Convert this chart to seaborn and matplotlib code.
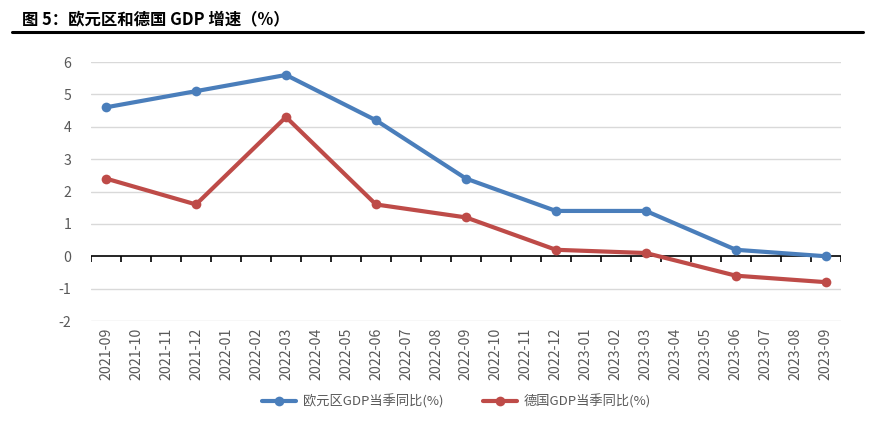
import matplotlib
matplotlib.use("Agg")
import matplotlib.pyplot as plt
import seaborn as sns
import pandas as pd
import numpy as np

months = ["2021-09","2021-10","2021-11","2021-12","2022-01","2022-02","2022-03","2022-04",
          "2022-05","2022-06","2022-07","2022-08","2022-09","2022-10","2022-11","2022-12",
          "2023-01","2023-02","2023-03","2023-04","2023-05","2023-06","2023-07","2023-08","2023-09"]
quarters = ["2021-09","2021-12","2022-03","2022-06","2022-09","2022-12","2023-03","2023-06","2023-09"]
euro = [4.6, 5.1, 5.6, 4.2, 2.4, 1.4, 1.4, 0.2, 0.0]
germany = [2.4, 1.6, 4.3, 1.6, 1.2, 0.2, 0.1, -0.6, -0.8]
series_names = ["欧元区GDP当季同比(%)", "德国GDP当季同比(%)"]
title = "图 5：欧元区和德国 GDP 增速（%）"

sns.set_theme(style="white")
plt.rcParams['font.family'] = ['Noto Sans CJK SC', 'DejaVu Sans']

pos = [months.index(q) for q in quarters]
df = pd.DataFrame({
    "x": pos * 2,
    "val": euro + germany,
    "series": [series_names[0]] * len(euro) + [series_names[1]] * len(germany),
})

fig = plt.figure(figsize=(8.75, 4.23), dpi=100)
ax = fig.add_axes([0.104, 0.2411, 0.857, 0.6123])

palette = {series_names[0]: "#4a7ebb", series_names[1]: "#be4b48"}
sns.lineplot(data=df, x="x", y="val", hue="series", palette=palette, marker="o",
             markersize=7, markeredgewidth=0, linewidth=3, ax=ax, legend=True, zorder=3)

ax.set_xlim(-0.5, len(months) - 0.5)
ax.set_ylim(-2, 6)
ax.set_yticks(range(-2, 7))
ax.set_yticklabels([str(v) for v in range(-2, 7)])
for v in range(-2, 7):
    if v != 0:
        ax.axhline(v, color="#d9d9d9", linewidth=1, zorder=1)
ax.axhline(0, color="black", linewidth=1.2, zorder=2)
bounds = np.arange(len(months) + 1) - 0.5
ax.vlines(bounds, -0.17, 0, color="black", linewidth=1.2, zorder=2)

ax.set_xticks(range(len(months)))
ax.set_xticklabels(months, rotation=90)
ax.tick_params(axis="both", length=0, colors="#595959", labelsize=10.2)
ax.tick_params(axis="y", pad=14)
ax.tick_params(axis="x", pad=5)
for s in ax.spines.values():
    s.set_visible(False)
ax.set_xlabel("")
ax.set_ylabel("")

handles, labels = ax.get_legend_handles_labels()
leg = ax.legend(handles, labels, loc="center", bbox_to_anchor=(0.522, 0.05),
                bbox_transform=fig.transFigure,
                ncol=2, frameon=False, fontsize=9.5, handlelength=2.6, columnspacing=3.0,
                labelcolor="#595959", handletextpad=0.5)

fig.text(0.025, 0.955, title, fontsize=11.8, fontweight="bold", ha="left", va="center", color="black")
fig.add_artist(plt.Line2D([0.014, 0.986], [0.924, 0.924], transform=fig.transFigure,
                          color="black", linewidth=2.2))

fig.savefig("out.png", dpi=100)
